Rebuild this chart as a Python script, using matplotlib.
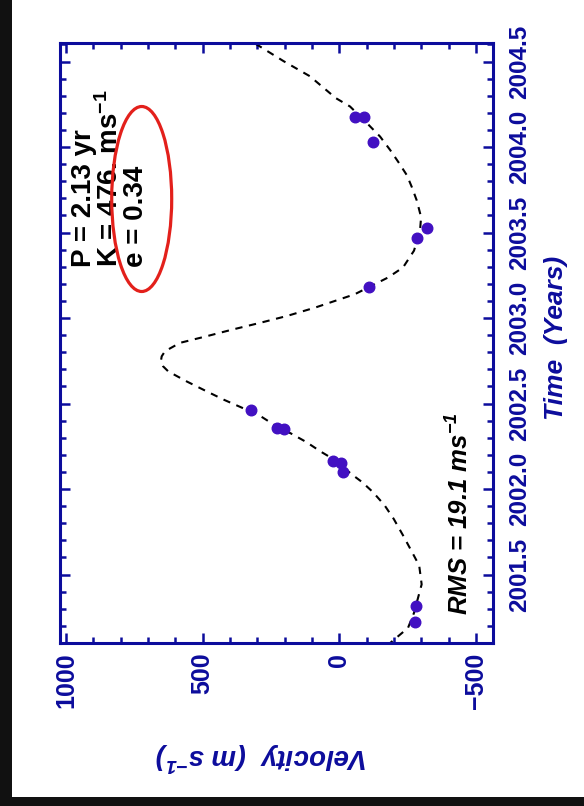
import matplotlib
matplotlib.use("Agg")
import matplotlib.pyplot as plt
from matplotlib.patches import Ellipse, Rectangle
from matplotlib.ticker import MultipleLocator, FixedLocator

# ---- data (chart is shown rotated: velocity runs horizontally, time vertically) ----
obs_time = [2004.175, 2004.175, 2004.028, 2003.528, 2003.469, 2003.182,
            2002.463, 2002.359, 2002.351, 2002.163, 2002.155, 2002.100,
            2001.319, 2001.223]
obs_vel = [-57, -90, -124, -320, -283, -110,
           323, 229, 202, 22, -5, -15,
           -281, -277]

fit_time = [2001.084, 2001.149, 2001.188, 2001.276, 2001.443, 2001.553, 2001.649,
            2001.729, 2001.825, 2001.906, 2001.982, 2002.041, 2002.090, 2002.159,
            2002.218, 2002.276, 2002.325, 2002.376, 2002.424, 2002.465, 2002.522,
            2002.571, 2002.629, 2002.688, 2002.718, 2002.747, 2002.776, 2002.806,
            2002.855, 2002.894,
            2002.934, 2002.972, 2003.012, 2003.061, 2003.139, 2003.237, 2003.296,
            2003.394, 2003.512, 2003.590, 2003.688, 2003.766, 2003.835, 2003.914,
            2003.982, 2004.061, 2004.141, 2004.237, 2004.286, 2004.414, 2004.502,
            2004.610]
fit_vel = [-174, -222, -251, -273, -301, -292, -260,
           -233, -199, -165, -123, -83, -42, 5,
           67, 122, 177, 239, 286, 341, 422,
           485, 558, 626, 645, 653, 650, 638,
           583, 485,
           388, 290, 192, 89, -56, -178, -233,
           -273, -295, -299, -283, -265, -247, -215,
           -186, -149, -100, -39, 13, 108, 204,
           313]

vel_ticks = [1000, 500, 0, -500]
time_ticks = [2001.5, 2002.0, 2002.5, 2003.0, 2003.5, 2004.0, 2004.5]
time_tick_labels = ["2001.5", "2002.0", "2002.5", "2003.0", "2003.5", "2004.0", "2004.5"]

fit_text = "P = 2.13 yr\nK = 476. ms$^{-1}$\ne = 0.34"
rms_text = "RMS = 19.1 ms$^{-1}$"
xlabel = "Velocity  (m s$^{-1}$)"
ylabel = "Time  (Years)"

# ---- style ----
NAVY = "#0c0c9c"
PT_COLOR = "#4210c2"
FONT = ["Liberation Sans", "DejaVu Sans"]
plt.rcParams["font.family"] = FONT
plt.rcParams["mathtext.fontset"] = "custom"
plt.rcParams["mathtext.rm"] = "Liberation Sans:bold"
plt.rcParams["mathtext.it"] = "Liberation Sans:bold:italic"
plt.rcParams["mathtext.default"] = "regular"

W, H = 584, 806
fig = plt.figure(figsize=(W / 100, H / 100), dpi=100)
fig.patch.set_facecolor("white")

# black frame strips (left and bottom)
fig.patches.append(Rectangle((0, 0), 12 / W, 1, transform=fig.transFigure,
                             facecolor="#111111", edgecolor="none", zorder=0))
fig.patches.append(Rectangle((0, 0), 1, 9 / H, transform=fig.transFigure,
                             facecolor="#111111", edgecolor="none", zorder=0))

L, R, T, B = 60, 493, 42.7, 643
ax = fig.add_axes([L / W, 1 - B / H, (R - L) / W, (B - T) / H])

ax.plot(fit_vel, fit_time, color="black", lw=1.5, dashes=(3.5, 3.2))
ax.plot(obs_vel, obs_time, "o", color=PT_COLOR, mec=PT_COLOR, ms=7.6)

ax.set_xlim(1022, -562)
ax.set_ylim(2001.1, 2004.61)

ax.xaxis.set_major_locator(FixedLocator(vel_ticks))
ax.xaxis.set_minor_locator(MultipleLocator(100))
ax.yaxis.set_major_locator(FixedLocator(time_ticks))
ax.yaxis.set_minor_locator(MultipleLocator(0.1))
ax.set_yticklabels(time_tick_labels)

for s in ax.spines.values():
    s.set_color(NAVY)
    s.set_linewidth(2.2)

ax.tick_params(which="both", direction="in", top=True, bottom=True, left=True, right=True,
               color=NAVY, width=1.8, labelcolor=NAVY,
               labelleft=False, labelright=True)
ax.tick_params(which="major", length=7.2)
ax.tick_params(which="minor", length=4.0)
ax.tick_params(axis="x", which="major", pad=7)
ax.tick_params(axis="y", which="major", pad=11)

for lab in ax.get_xticklabels():
    lab.set_rotation(90)
    lab.set_fontsize(18)
    lab.set_fontweight("bold")
    lab.set_ha("center")
    lab.set_va("top")
for lab in ax.get_yticklabels():
    lab.set_rotation(90)
    lab.set_fontsize(17.5)
    lab.set_fontweight("bold")
    lab.set_ha("left")
    lab.set_va("center")

ax.set_xlabel(xlabel, fontsize=20, fontweight="bold", fontstyle="italic",
              color=NAVY, rotation=180, ha="center", va="center")
ax.xaxis.set_label_coords((262 - L) / (R - L), -(757 - B) / (B - T))

ax.yaxis.set_label_position("right")
ax.set_ylabel(ylabel, fontsize=19, fontweight="bold", fontstyle="italic",
              color=NAVY, rotation=90, ha="center", va="center")
ax.yaxis.set_label_coords((556 - L) / (R - L), 1 - (338 - T) / (B - T))

# annotations
ax.text((460 - L) / (R - L), 1 - (615 - T) / (B - T), rms_text, transform=ax.transAxes,
        rotation=90, ha="center", va="bottom", fontsize=18.5, fontweight="bold",
        fontstyle="italic", color="black")
ax.text((110 - L) / (R - L), 1 - (267 - T) / (B - T), fit_text, transform=ax.transAxes,
        rotation=90, ha="center", va="bottom", fontsize=20, fontweight="bold",
        color="black", linespacing=0.95, multialignment="left")

ax.add_patch(Ellipse(((141.7 - L) / (R - L), 1 - (199 - T) / (B - T)),
                     60 / (R - L), 185 / (B - T), transform=ax.transAxes,
                     fill=False, edgecolor="#e3201b", lw=2.3, zorder=5))

fig.savefig("out.png", dpi=100, facecolor="white")
